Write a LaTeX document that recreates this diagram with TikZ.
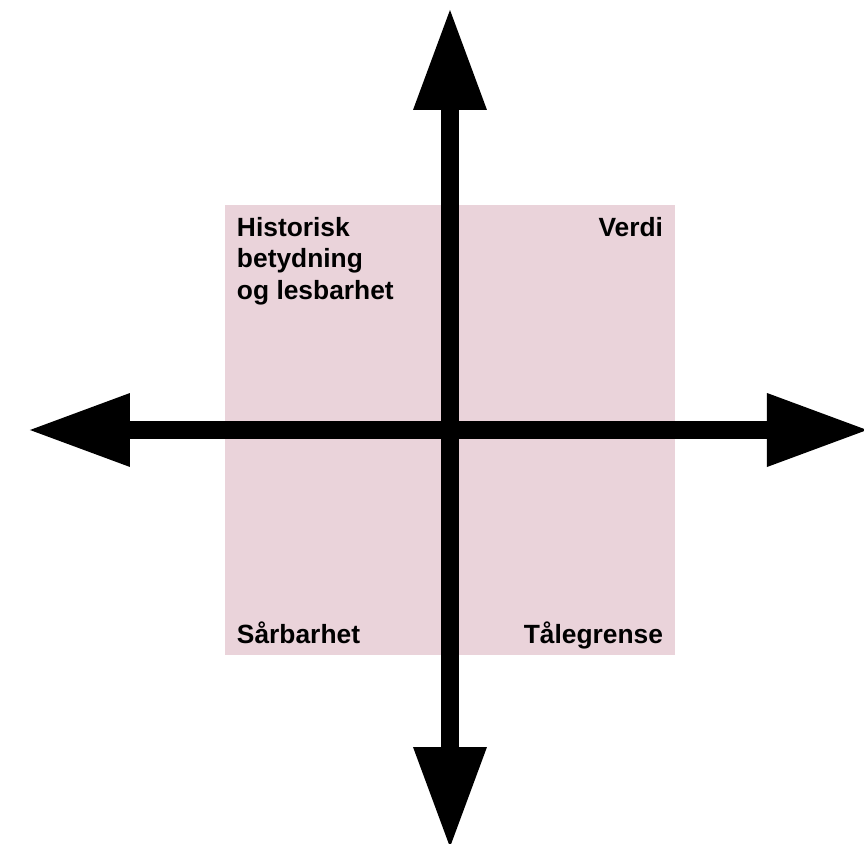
\documentclass[tikz,border=0pt]{standalone}
\usepackage{fontspec}
\setmainfont{Liberation Sans}
\usetikzlibrary{arrows.meta,calc,positioning}
\definecolor{FieldPink}{RGB}{234,211,218}

\begin{document}
\begin{tikzpicture}[
    axis/.style={line width=.36cm,black,
      {Triangle[length=2cm,width=1.48cm,line width=0pt]}-{Triangle[length=2cm,width=1.48cm,line width=0pt]}},
    lbl/.style={font=\bfseries\fontsize{15}{18.1}\selectfont,inner sep=0pt}]
  \useasboundingbox (-9,-8.28) rectangle (8.28,8.6);
  \node[fill=FieldPink,minimum size=9cm,inner sep=0pt] (field) at (0,0) {};
  % axes
  \coordinate (top) at (0,8.4);
  \coordinate (bottom) at (0,-8.34);
  \coordinate (left) at (-8.4,0);
  \coordinate (right) at (8.34,0);
  \draw[axis] (bottom) -- (top);
  \draw[axis] (left) -- (right);
  % corner labels
  \node[lbl,anchor=north west,align=left] (hist) at ($(field.north west)+(.24,-.24)$)
    {Historisk\\betydning\\og lesbarhet};
  \node[lbl,anchor=north east] (verdi) at ($(field.north east)+(-.24,-.24)$) {Verdi};
  \node[lbl,anchor=base west] (sarb) at ($(field.south west)+(.24,.24)$) {Sårbarhet};
  \node[lbl,anchor=base east] (taale) at ($(field.south east)+(-.24,.24)$) {Tålegrense};
\end{tikzpicture}
\end{document}
